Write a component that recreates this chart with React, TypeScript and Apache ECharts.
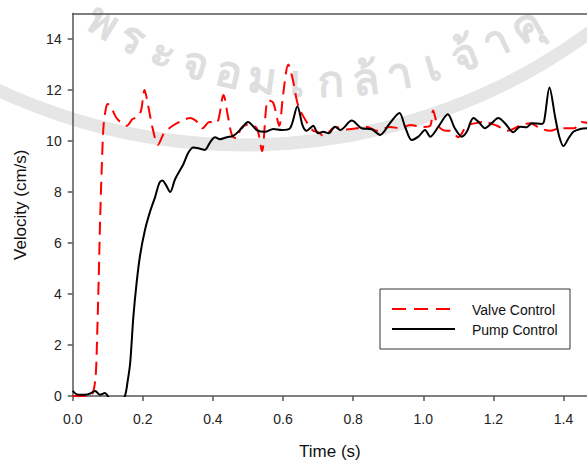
import React, { useEffect, useRef } from "react";
import * as echarts from "echarts";

// ---- Data ----
const valveT = [0, 0.02, 0.04, 0.055, 0.065, 0.07, 0.074, 0.078, 0.083, 0.088, 0.095, 0.1, 0.11, 0.125, 0.14, 0.155, 0.17, 0.185, 0.195, 0.205, 0.215, 0.228, 0.243, 0.26, 0.28, 0.305, 0.335, 0.355, 0.37, 0.39, 0.41, 0.43, 0.443, 0.455, 0.468, 0.48, 0.5, 0.525, 0.54, 0.557, 0.572, 0.589, 0.6, 0.615, 0.628, 0.643, 0.667, 0.686, 0.7, 0.715, 0.75, 0.78, 0.81, 0.84, 0.867, 0.905, 0.935, 0.962, 1.0, 1.02, 1.028, 1.042, 1.067, 1.076, 1.1, 1.124, 1.15, 1.17, 1.21, 1.24, 1.276, 1.305, 1.333, 1.362, 1.39, 1.43, 1.452, 1.47];
const valveV = [0, 0, 0, 0.05, 0.7, 2.5, 4.5, 6.8, 9.0, 10.6, 11.3, 11.45, 11.3, 10.9, 10.7, 10.6, 10.85, 10.95, 11.2, 12.0, 11.4, 10.5, 9.85, 10.3, 10.55, 10.75, 10.9, 10.75, 10.5, 10.75, 10.7, 11.8, 10.95, 10.2, 10.1, 10.5, 10.65, 10.5, 9.6, 11.6, 11.5, 10.6, 11.8, 13.0, 12.4, 11.4, 10.75, 10.4, 10.35, 10.2, 10.55, 10.45, 10.5, 10.55, 10.4, 10.55, 10.5, 10.63, 10.55, 10.6, 11.2, 10.6, 10.4, 10.4, 10.15, 10.6, 10.7, 10.75, 10.6, 10.4, 10.6, 10.7, 10.5, 10.4, 10.5, 10.5, 10.75, 10.7];

const pumpT = [0, 0.015, 0.035, 0.05, 0.064, 0.078, 0.092, 0.1, 0.115, 0.135, 0.149, 0.157, 0.164, 0.173, 0.182, 0.192, 0.206, 0.22, 0.235, 0.247, 0.256, 0.265, 0.278, 0.292, 0.316, 0.33, 0.344, 0.363, 0.377, 0.392, 0.406, 0.42, 0.44, 0.458, 0.482, 0.5, 0.525, 0.549, 0.572, 0.596, 0.62, 0.641, 0.656, 0.667, 0.677, 0.686, 0.7, 0.715, 0.73, 0.748, 0.763, 0.796, 0.824, 0.853, 0.877, 0.905, 0.932, 0.948, 0.967, 0.986, 1.005, 1.02, 1.043, 1.07, 1.09, 1.11, 1.124, 1.143, 1.157, 1.176, 1.195, 1.214, 1.233, 1.257, 1.276, 1.295, 1.31, 1.338, 1.345, 1.36, 1.376, 1.388, 1.4, 1.414, 1.428, 1.448, 1.47];
const pumpV = [0.2, 0.05, 0.05, 0.1, 0.2, 0.05, 0.12, 0, -0.3, -0.3, 0, 0.6, 1.3, 3.1, 4.4, 5.5, 6.5, 7.2, 7.8, 8.35, 8.45, 8.3, 8.0, 8.5, 9.1, 9.55, 9.75, 9.7, 9.65, 9.95, 10.15, 10.07, 10.15, 10.2, 10.5, 10.75, 10.43, 10.36, 10.47, 10.43, 10.5, 11.35, 10.6, 10.4, 10.5, 10.6, 10.3, 10.36, 10.3, 10.56, 10.43, 10.8, 10.5, 10.46, 10.24, 10.7, 11.1, 10.56, 10.04, 10.17, 10.43, 10.17, 10.56, 11.05, 10.5, 10.17, 10.36, 10.9, 10.76, 10.5, 10.7, 10.9, 10.7, 10.34, 10.56, 10.54, 10.7, 10.67, 10.8, 12.1, 10.95, 10.17, 9.8, 10.1, 10.36, 10.47, 10.5];

const seriesNames = ["Valve Control", "Pump Control"];
const xTicks = [0, 0.2, 0.4, 0.6, 0.8, 1.0, 1.2, 1.4];
const yTicks = [0, 2, 4, 6, 8, 10, 12, 14];
const xMax = 1.467;
const yMax = 15;
const xTitle = "Time (s)";
const yTitle = "Velocity (cm/s)";
const watermarkChars = ["พ", "ร", "ะ", "จ", "อ", "ม", "เ", "ก", "ล้", "า", "เ", "จ้", "า", "คุ"];

const FONT = "'Liberation Sans', Arial, Helvetica, sans-serif";

export default function App() {
  const ref = useRef<HTMLDivElement>(null);

  useEffect(() => {
    document.body.style.margin = "0";
    const chart = echarts.init(ref.current!, null, { renderer: "svg" });

    const valveData = valveT.map((t, i) => [t, valveV[i]]);
    const pumpData = pumpT.map((t, i) => [t, pumpV[i]]);

    const graphics: any[] = [];
    // watermark (decorative, light grey)
    const tcx = 318, tcy = -330, tr = 410;
    const a0 = 2.12, step = 0.083;
    watermarkChars.forEach((ch, i) => {
      const th = a0 - i * step;
      graphics.push({
        type: "text",
        x: tcx + tr * Math.cos(th),
        y: tcy + tr * Math.sin(th),
        rotation: Math.PI / 2 - th,
        silent: true,
        z: -10,
        style: {
          text: ch,
          fill: "#dedede",
          font: "bold 44px 'Noto Sans', 'DejaVu Sans', sans-serif",
          align: "center",
          verticalAlign: "middle",
        },
      });
    });
    graphics.push({
      type: "circle",
      silent: true,
      z: -10,
      shape: { cx: 245, cy: -440, r: 585 },
      style: { fill: "none", stroke: "#e6e6e6", lineWidth: 13 },
    });

    // legend box (drawn as graphic to match the reference's plain line keys)
    const lx = 380, ly = 289;
    graphics.push({
      type: "group",
      x: lx,
      y: ly,
      z: 20,
      children: [
        { type: "rect", shape: { x: 0, y: 0, width: 190, height: 60 }, style: { fill: "#fff", stroke: "#333", lineWidth: 1 } },
        { type: "line", shape: { x1: 12, y1: 20, x2: 70, y2: 20 }, style: { stroke: "#ff0000", lineWidth: 2, lineDash: [14, 8] } },
        { type: "line", shape: { x1: 12, y1: 40, x2: 75, y2: 40 }, style: { stroke: "#000", lineWidth: 2 } },
        { type: "text", x: 92, y: 21, style: { text: seriesNames[0], fill: "#111", font: `14px ${FONT}`, verticalAlign: "middle" } },
        { type: "text", x: 92, y: 41, style: { text: seriesNames[1], fill: "#111", font: `14px ${FONT}`, verticalAlign: "middle" } },
      ],
    });

    const axisLine = { show: true, lineStyle: { color: "#555", width: 1.5 } };
    const axisTick = { show: true, length: 5, lineStyle: { color: "#555", width: 1.5 } };

    const option: any = {
      animation: false,
      textStyle: { fontFamily: FONT },
      graphic: { elements: graphics },
      grid: { left: 72.7, right: 0, top: 13.5, bottom: 64, show: false, containLabel: false, outerBoundsMode: "none" },
      xAxis: [
        {
          type: "value",
          min: 0,
          max: xMax,
          name: xTitle,
          nameLocation: "middle",
          nameGap: 47,
          nameTextStyle: { fontSize: 17, color: "#111", fontFamily: FONT },
          axisLine,
          axisTick: { ...axisTick, customValues: xTicks },
          axisLabel: {
            fontSize: 14,
            color: "#222",
            margin: 16,
            fontFamily: FONT,
            customValues: xTicks,
            formatter: (v: number) => v.toFixed(1),
          },
          splitLine: { show: false },
        },
        {
          type: "value",
          position: "top",
          min: 0,
          max: xMax,
          axisLine,
          axisTick: { show: false },
          axisLabel: { show: false },
          splitLine: { show: false },
        },
      ],
      yAxis: {
        type: "value",
        min: 0,
        max: yMax,
        name: yTitle,
        nameLocation: "middle",
        nameGap: 44,
        nameTextStyle: { fontSize: 17, color: "#111", fontFamily: FONT },
        axisLine,
        axisTick: { ...axisTick, customValues: yTicks },
        axisLabel: {
          fontSize: 14,
          color: "#222",
          margin: 11,
          fontFamily: FONT,
          customValues: yTicks,
        },
        splitLine: { show: false },
      },
      series: [
        {
          name: seriesNames[0],
          type: "line",
          data: valveData,
          symbol: "none",
          smooth: 0.3,
          clip: true,
          lineStyle: { color: "#ff0000", width: 2, type: [13, 7] },
          itemStyle: { color: "#ff0000" },
          z: 3,
        },
        {
          name: seriesNames[1],
          type: "line",
          data: pumpData,
          symbol: "none",
          smooth: 0.3,
          clip: true,
          lineStyle: { color: "#000000", width: 2 },
          itemStyle: { color: "#000000" },
          z: 4,
        },
      ],
    };

    chart.setOption(option);
    return () => chart.dispose();
  }, []);

  return <div ref={ref} style={{ width: 587, height: 460 }} />;
}
